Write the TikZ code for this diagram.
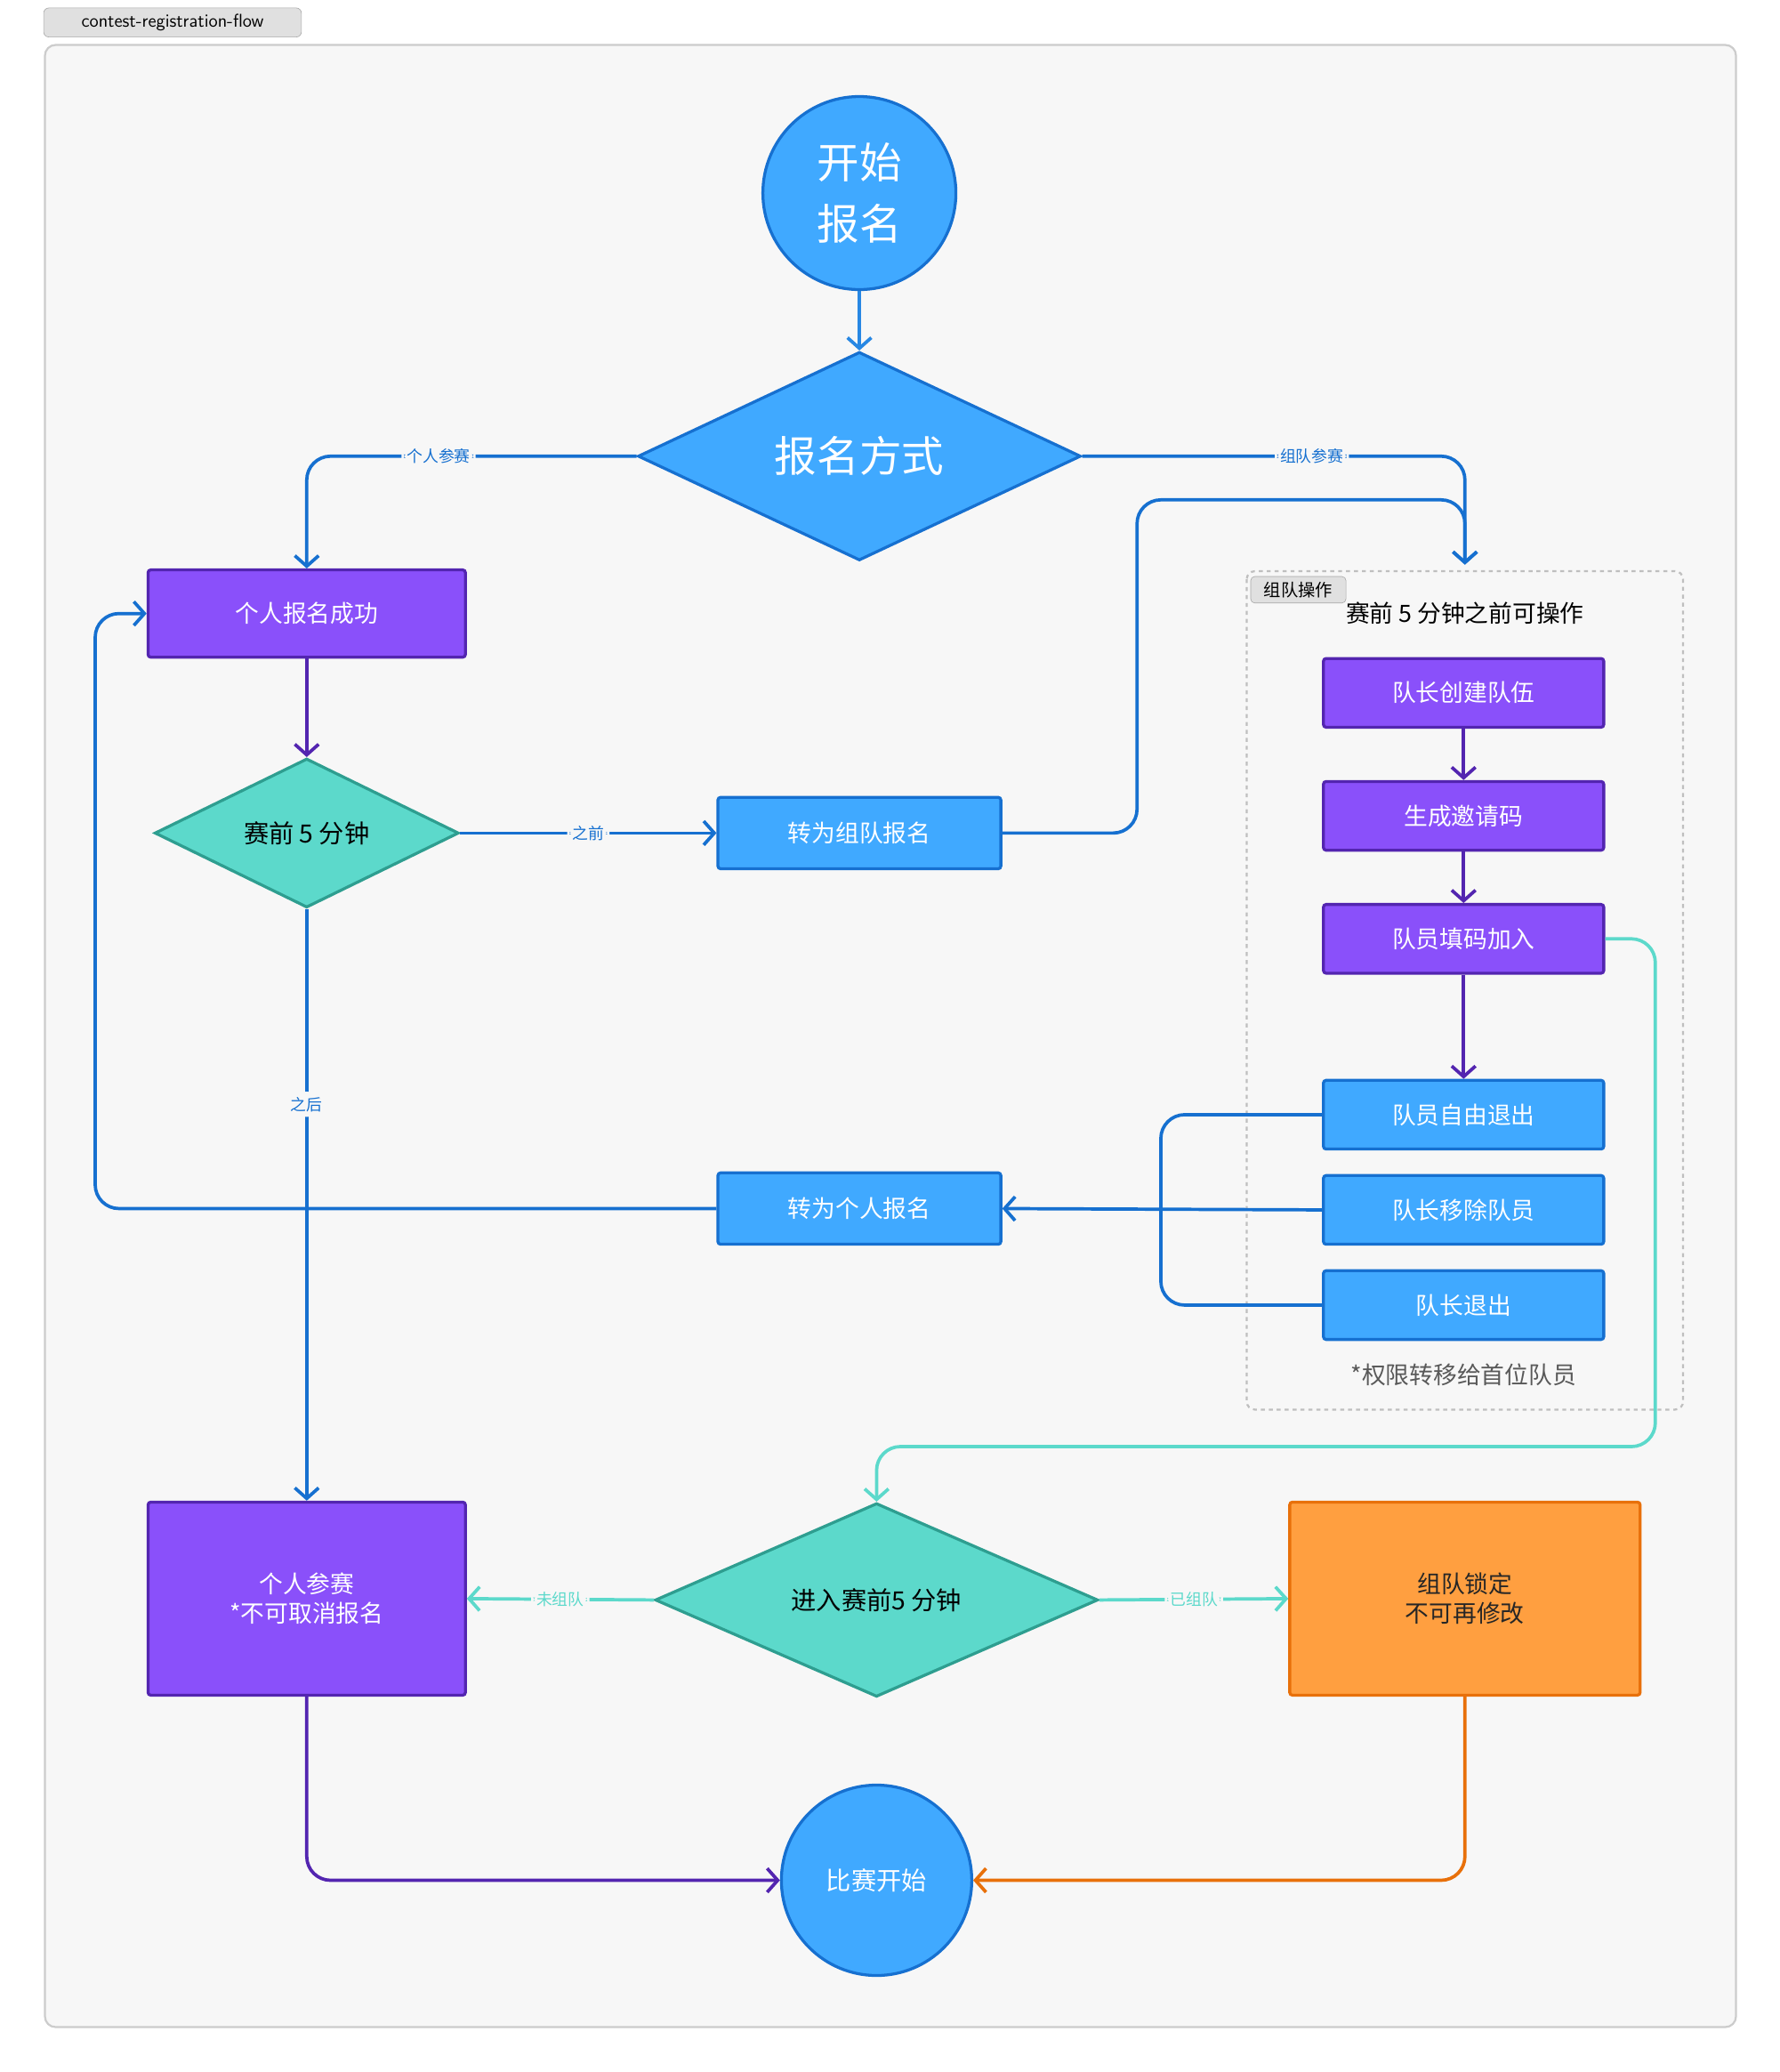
\documentclass[tikz,border=0pt]{standalone}
\usepackage{fontspec}
\setmainfont{Noto Sans CJK SC}
\usetikzlibrary{shapes.geometric,arrows.meta,positioning}
\definecolor{bgc}{HTML}{F7F7F7}
\definecolor{bluef}{HTML}{40A9FF}
\definecolor{blued}{HTML}{1670D0}
\definecolor{purf}{HTML}{8A50FA}
\definecolor{purd}{HTML}{5325B0}
\definecolor{tealf}{HTML}{5CD9CB}
\definecolor{teald}{HTML}{2E9E90}
\definecolor{orgf}{HTML}{FF9F40}
\definecolor{orgd}{HTML}{E8700A}
\tikzset{
  box/.style={draw,line width=2.2pt,rounded corners=2pt,minimum width=212pt,minimum height=52pt,
    text=white,font=\fontsize{18}{22}\selectfont,align=center},
  bluebox/.style={box,fill=bluef,draw=blued},
  purbox/.style={box,fill=purf,draw=purd},
  dia/.style={diamond,draw,line width=2.2pt,inner sep=0pt,align=center},
  circ/.style={circle,draw=blued,fill=bluef,line width=2.2pt,text=white,align=center},
  lab/.style={fill=bgc,font=\fontsize{12}{14}\selectfont,inner sep=4pt},
  conn/.style={line width=2.5pt,rounded corners=18pt,-{Straight Barb[length=8pt,width=18pt,line width=2.5pt]}},
  line/.style={line width=2.5pt,rounded corners=18pt},
}
\begin{document}
\begin{tikzpicture}[x=1pt,y=-1pt]
\useasboundingbox (0,0) rectangle (1346,1567);
% frame
\draw[fill=bgc,draw=black!20,line width=1.5pt,rounded corners=8pt] (34,34) rectangle (1313,1533);
\node[draw=black!35,fill=black!12,rounded corners=4pt,font=\fontsize{14}{16}\selectfont\sffamily,
  minimum width=195pt,minimum height=22pt,inner sep=0pt] (tag) at (130.5,17) {contest-registration-flow};
% team group
\draw[dashed,draw=black!25,line width=1.5pt,rounded corners=6pt] (943,432) rectangle (1273,1066);
\node[draw=black!35,fill=black!12,rounded corners=3pt,font=\fontsize{13}{15}\selectfont,
  minimum width=72pt,minimum height=20pt,inner sep=0pt] (gtag) at (982,446) {组队操作};
\node[font=\fontsize{18}{22}\selectfont] (gtitle) at (1108,464) {赛前 5 分钟之前可操作};
\node[font=\fontsize{18}{22}\selectfont,text=black!65] (gnote) at (1107,1040) {*权限转移给首位队员};
% nodes
\node[circ,minimum size=146pt,font=\fontsize{32}{46}\selectfont] (start) at (650,146) {开始\\报名};
\node[dia,fill=bluef,draw=blued,minimum width=335pt,minimum height=120pt,text=white,
  font=\fontsize{32}{36}\selectfont] (mode) at (650,345) {报名方式};
\node[purbox,minimum width=240pt,minimum height=66pt] (solo) at (232,464) {个人报名成功};
\node[dia,fill=tealf,draw=teald,minimum width=230pt,minimum height=108pt,
  font=\fontsize{19}{22}\selectfont] (five) at (232,630) {赛前 5 分钟};
\node[bluebox,minimum width=214pt,minimum height=54pt] (toteam) at (650,630) {转为组队报名};
\node[purbox] (create) at (1107,524) {队长创建队伍};
\node[purbox] (code) at (1107,617) {生成邀请码};
\node[purbox] (join) at (1107,710) {队员填码加入};
\node[bluebox] (quit) at (1107,843) {队员自由退出};
\node[bluebox] (kick) at (1107,915) {队长移除队员};
\node[bluebox] (lquit) at (1107,987) {队长退出};
\node[bluebox,minimum width=214pt,minimum height=54pt] (tosolo) at (650,914) {转为个人报名};
\node[purbox,minimum width=240pt,minimum height=146pt] (soloin) at (232,1209) {个人参赛\\*不可取消报名};
\node[dia,fill=tealf,draw=teald,minimum width=335pt,minimum height=146pt,
  font=\fontsize{19}{22}\selectfont] (enter) at (663,1210) {进入赛前5 分钟};
\node[box,fill=orgf,draw=orgd,text=black!85,minimum width=265pt,minimum height=146pt] (lock) at (1108,1209) {组队锁定\\不可再修改};
\node[circ,minimum size=144pt,font=\fontsize{19}{22}\selectfont] (go) at (663,1422) {比赛开始};
\coordinate (tin) at (1108,427);
% connectors
\draw[conn,blued!60!bluef] (start) -- (mode);
\draw[conn,blued] (mode.west) -| node[lab,pos=0.3] {个人参赛} (solo.north);
\draw[conn,blued] (mode.east) -| node[lab,pos=0.3] {组队参赛} (tin);
\draw[conn,blued] (toteam.east) -- (860,630) -- (860,378) -- (1108,378) -- (tin);
\draw[conn,purd] (solo) -- (five);
\draw[conn,blued] (five.east) -- node[lab] {之前} (toteam.west);
\draw[conn,blued] (five.south) -- node[lab,pos=0.33] {之后} (soloin.north);
\draw[conn,purd] (create) -- (code);
\draw[conn,purd] (code) -- (join);
\draw[conn,purd] (join) -- (quit);
\draw[line,blued] (quit.west) -- (878,843) -- (878,914);
\draw[line,blued] (lquit.west) -- (878,987) -- (878,914);
\draw[conn,blued] (kick.west) -- (tosolo.east);
\draw[conn,blued] (tosolo.west) -- (72,914) -- (72,464) -- (solo.west);
\draw[conn,tealf] (join.east) -- (1252,710) -- (1252,1094) -- (663,1094) -- (enter.north);
\draw[conn,tealf] (enter.west) -- node[lab] {未组队} (soloin.east);
\draw[conn,tealf] (enter.east) -- node[lab] {已组队} (lock.west);
\draw[conn,purd] (soloin.south) |- (go.west);
\draw[conn,orgd] (lock.south) |- (go.east);
\end{tikzpicture}
\end{document}
